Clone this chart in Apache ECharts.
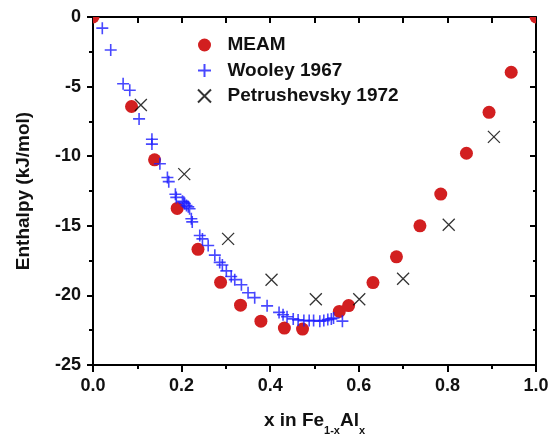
<!DOCTYPE html>
<html>
<head>
<meta charset="utf-8">
<script src="https://cdn.jsdelivr.net/npm/echarts@6/dist/echarts.min.js"></script>
<style>html,body{margin:0;padding:0;background:#fff;overflow:hidden;}#c{width:557px;height:441px;}</style>
</head>
<body>
<div id="c"></div>
<script>
const meamX = [0, 0.087, 0.139, 0.19, 0.237, 0.288, 0.333, 0.379, 0.432, 0.473, 0.556, 0.577, 0.632, 0.685, 0.738, 0.785, 0.843, 0.894, 0.944, 1.0];
const meamY = [0, -6.43, -10.26, -13.75, -16.69, -19.06, -20.7, -21.85, -22.35, -22.42, -21.15, -20.73, -19.08, -17.23, -15.0, -12.72, -9.79, -6.85, -3.97, 0];

const wooleyX = [0.021, 0.040, 0.068, 0.083, 0.104, 0.133, 0.133, 0.151, 0.168, 0.171, 0.186, 0.188, 0.202, 0.205, 0.207, 0.211, 0.215, 0.218, 0.222, 0.224, 0.241, 0.247, 0.260, 0.275, 0.286, 0.292, 0.301, 0.312, 0.320, 0.335, 0.350, 0.365, 0.393, 0.420, 0.429, 0.438, 0.452, 0.463, 0.476, 0.488, 0.498, 0.512, 0.521, 0.530, 0.538, 0.543, 0.563];
const wooleyY = [-0.80, -2.37, -4.79, -5.26, -7.32, -8.78, -9.13, -10.54, -11.53, -11.83, -12.73, -12.96, -13.24, -13.31, -13.40, -13.54, -13.64, -13.78, -14.49, -14.72, -15.70, -15.94, -16.41, -17.11, -17.63, -17.82, -18.24, -18.64, -18.87, -19.23, -19.81, -20.16, -20.75, -21.22, -21.39, -21.53, -21.69, -21.76, -21.81, -21.81, -21.81, -21.85, -21.81, -21.74, -21.69, -21.62, -21.85];

const petX = [0.108, 0.206, 0.305, 0.403, 0.503, 0.601, 0.700, 0.803, 0.905];
const petY = [-6.32, -11.29, -15.94, -18.87, -20.28, -20.28, -18.80, -14.93, -8.61];

const xTicks = ['0.0', '0.2', '0.4', '0.6', '0.8', '1.0'];
const yTicks = ['0', '-5', '-10', '-15', '-20', '-25'];

const zip = (a, b) => a.map((v, i) => [v, b[i]]);
const FONT = 'Liberation Sans, Arial, sans-serif';
const plusPath = 'path://M5,0L5,10M0,5L10,5';
const crossPath = 'path://M0,0L10,10M10,0L0,10';
const RED = '#d21f20';

const chart = echarts.init(document.getElementById('c'), null, {renderer: 'canvas', width: 557, height: 441});
chart.setOption({
  animation: false,
  backgroundColor: '#fff',
  grid: {left: 93, top: 17, width: 443, height: 355, containLabel: false},
  legend: {
    orient: 'vertical', left: 192, top: 30, itemWidth: 30, itemHeight: 13, itemGap: 5.5,
    textStyle: {fontFamily: FONT, fontWeight: 'bold', fontSize: 19, lineHeight: 20, color: '#111', padding: [0, 0, 0, 3]},
    data: [
      {name: 'MEAM', icon: 'circle', itemStyle: {color: RED}},
      {name: 'Wooley 1967', icon: plusPath},
      {name: 'Petrushevsky 1972', icon: crossPath}
    ]
  },
  xAxis: [{
    type: 'value', min: 0, max: 1, interval: 0.2, position: 'bottom',
    name: '{a|x in Fe}{s|1-x}{a|Al}{s|x}', nameLocation: 'middle', nameGap: 43,
    nameTextStyle: {rich: {
      a: {fontFamily: FONT, fontWeight: 'bold', fontSize: 19, color: '#111', verticalAlign: 'bottom', lineHeight: 22},
      s: {fontFamily: FONT, fontWeight: 'bold', fontSize: 11, color: '#111', verticalAlign: 'bottom', lineHeight: 12, padding: [0, 0, -6, 0]}
    }},
    axisLine: {show: true, onZero: false, lineStyle: {color: '#000', width: 2}},
    axisTick: {show: true, inside: false, length: 7, lineStyle: {color: '#000', width: 2}},
    minorTick: {show: true, splitNumber: 2, length: 4, lineStyle: {color: '#000', width: 2}},
    axisLabel: {margin: 12, fontFamily: FONT, fontWeight: 'bold', fontSize: 18, color: '#111',
      formatter: (v) => xTicks[Math.round(v / 0.2)]},
    splitLine: {show: false}
  }, {
    type: 'value', min: 0, max: 1, interval: 0.1, position: 'top',
    axisLine: {show: true, onZero: false, lineStyle: {color: '#000', width: 2}},
    axisTick: {show: true, inside: true, length: 6, lineStyle: {color: '#000', width: 2}},
    axisLabel: {show: false}, splitLine: {show: false}
  }],
  yAxis: [{
    type: 'value', min: -25, max: 0, interval: 5, position: 'left',
    name: 'Enthalpy (kJ/mol)', nameLocation: 'middle', nameGap: 60, nameRotate: 90,
    nameTextStyle: {fontFamily: FONT, fontWeight: 'bold', fontSize: 19, color: '#111'},
    axisLine: {show: true, onZero: false, lineStyle: {color: '#000', width: 2}},
    axisTick: {show: true, inside: false, length: 6, lineStyle: {color: '#000', width: 2}},
    minorTick: {show: true, splitNumber: 2, length: 4, lineStyle: {color: '#000', width: 2}},
    axisLabel: {margin: 12, fontFamily: FONT, fontWeight: 'bold', fontSize: 18, color: '#111',
      formatter: (v) => yTicks[Math.round(-v / 5)]},
    splitLine: {show: false}
  }, {
    type: 'value', min: -25, max: 0, interval: 5, position: 'right',
    axisLine: {show: true, onZero: false, lineStyle: {color: '#000', width: 2}},
    axisTick: {show: true, inside: true, length: 6, lineStyle: {color: '#000', width: 2}},
    minorTick: {show: true, splitNumber: 2, length: 3, lineStyle: {color: '#000', width: 2}},
    axisLabel: {show: false}, splitLine: {show: false}
  }],
  series: [{
    name: 'MEAM', type: 'custom', clip: true, z: 1,
    itemStyle: {color: RED},
    encode: {x: 0, y: 1},
    renderItem: function (params, api) {
      const p = api.coord([api.value(0), api.value(1)]);
      return {type: 'circle', shape: {cx: p[0], cy: p[1], r: 6.5}, style: {fill: RED}};
    },
    data: zip(meamX, meamY)
  }, {
    name: 'Wooley 1967', type: 'scatter', clip: true, z: 2, symbol: plusPath, symbolSize: 12,
    itemStyle: {color: 'rgba(0,0,0,0)', borderColor: '#1a1aff', borderWidth: 1.6},
    data: zip(wooleyX, wooleyY)
  }, {
    name: 'Petrushevsky 1972', type: 'scatter', clip: true, z: 3, symbol: crossPath, symbolSize: 12,
    itemStyle: {color: 'rgba(0,0,0,0)', borderColor: '#000', borderWidth: 1.3},
    data: zip(petX, petY)
  }]
});
</script>
</body>
</html>
